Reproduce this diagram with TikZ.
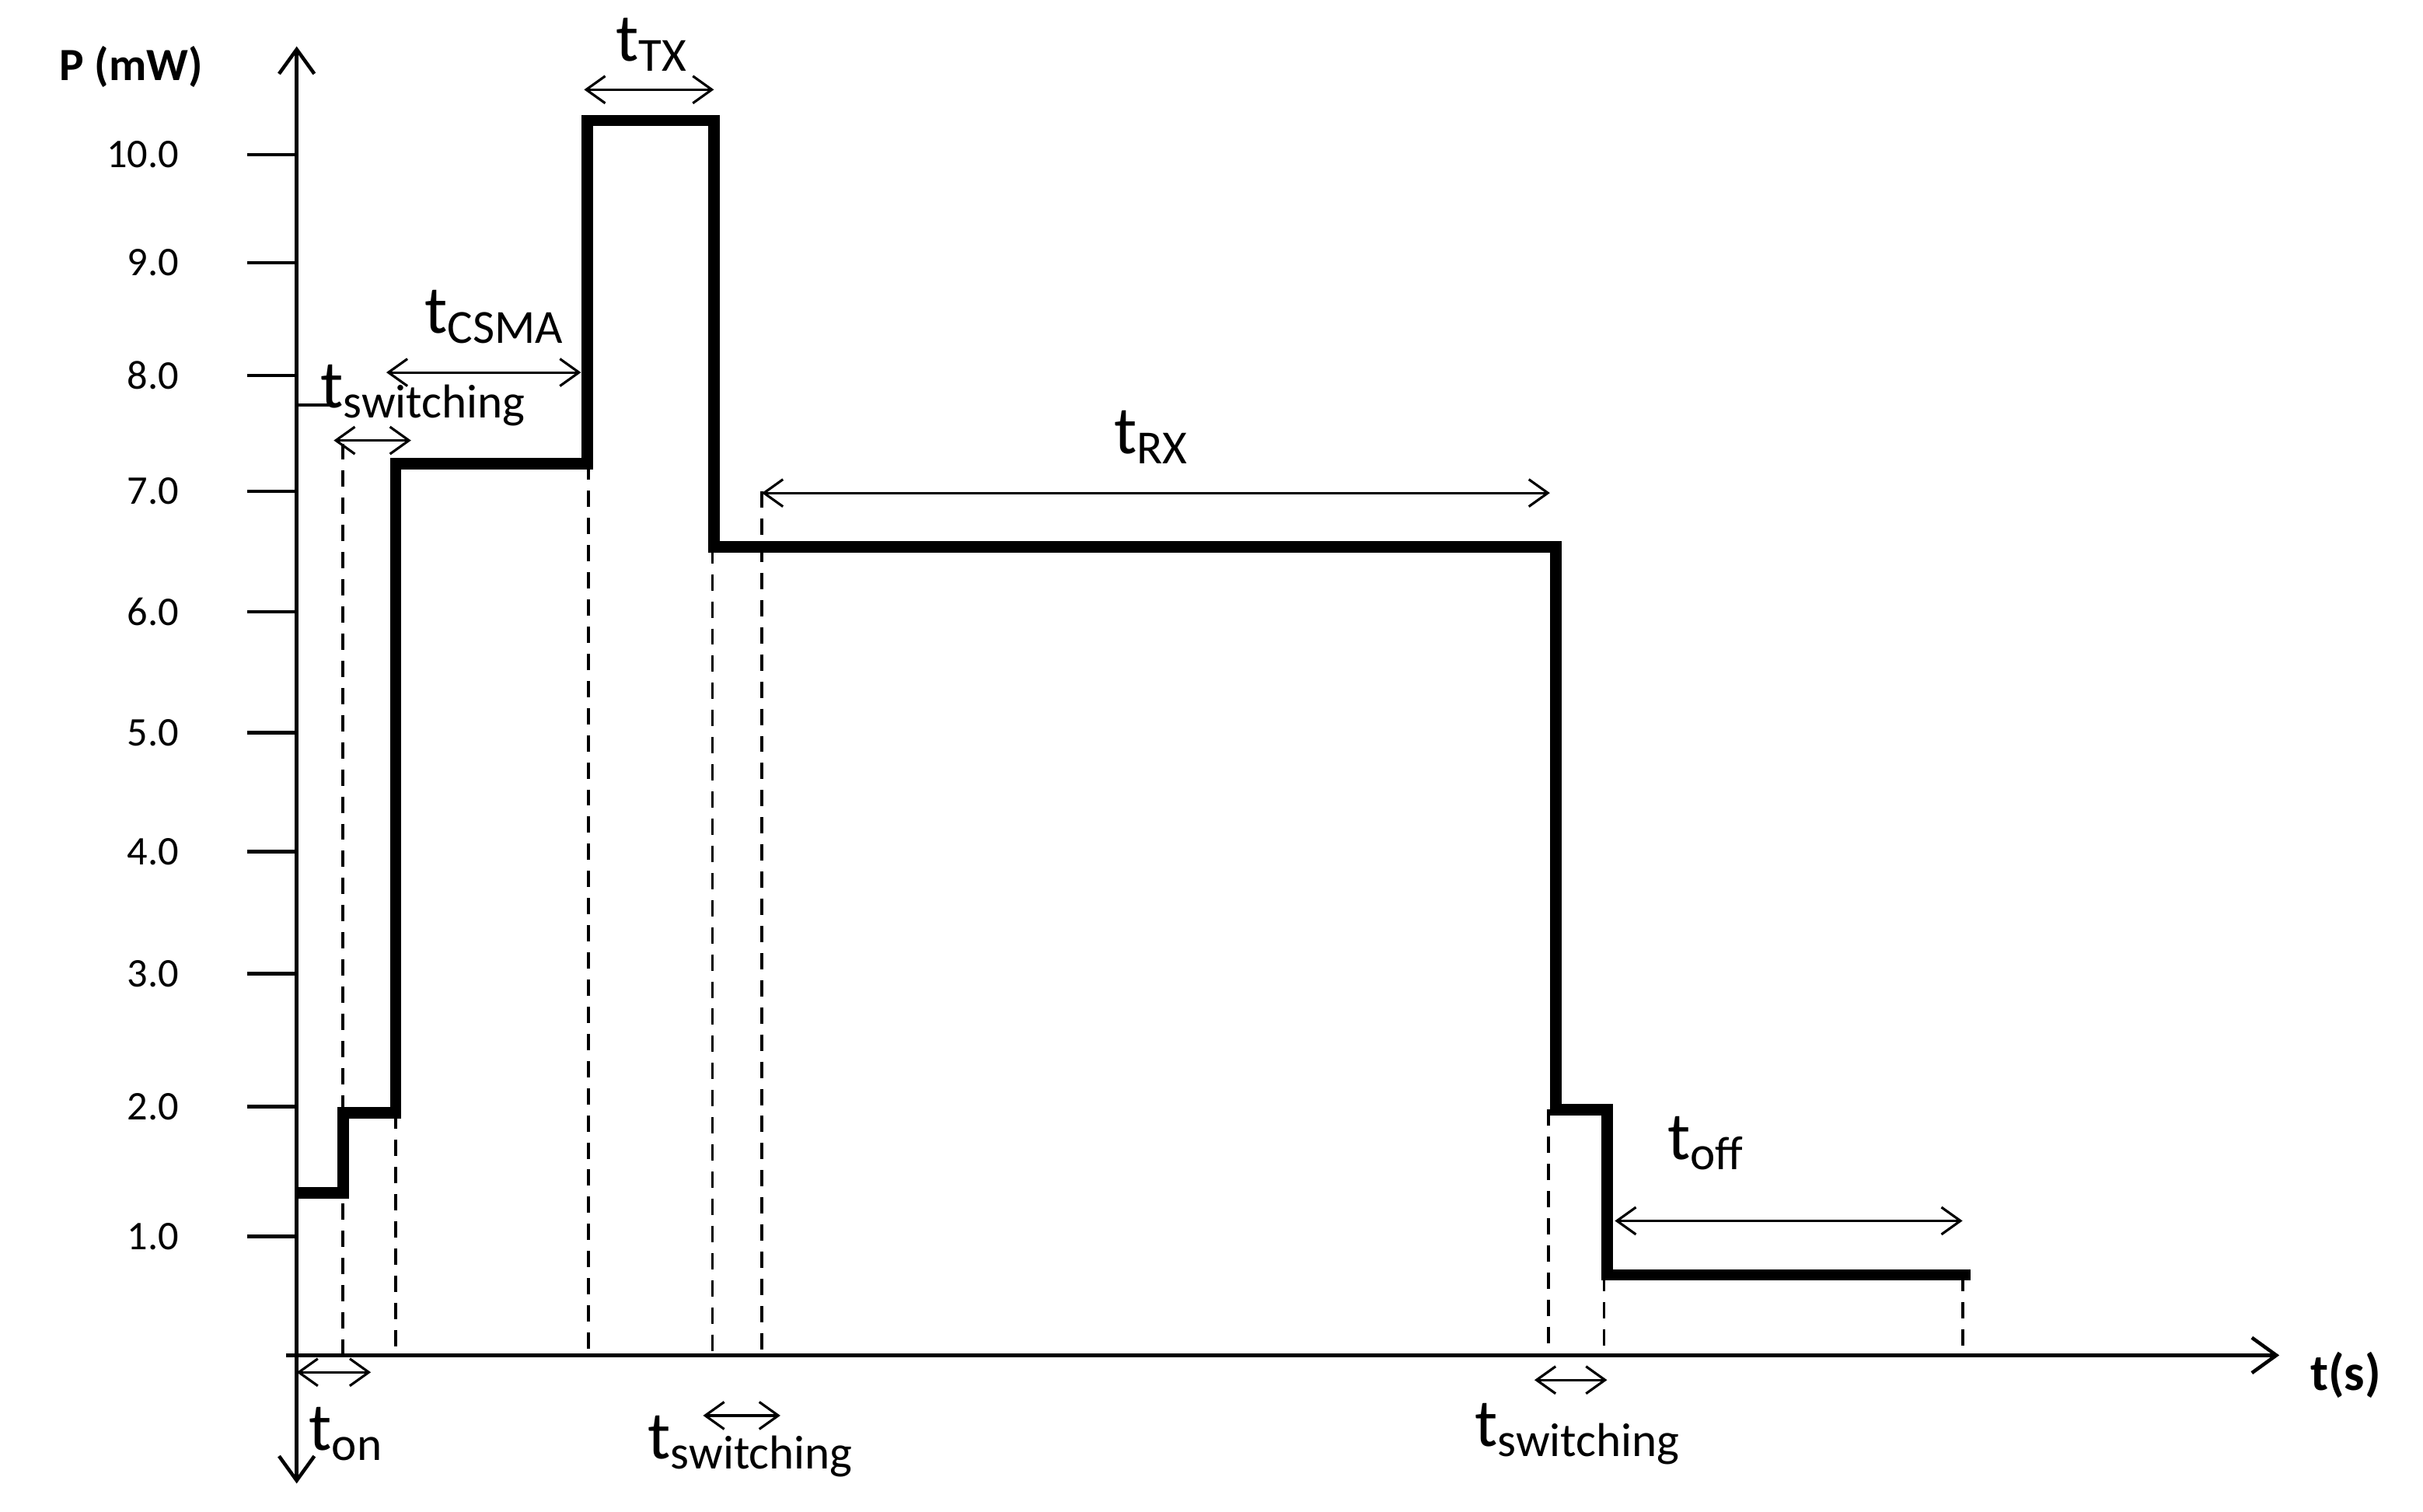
\documentclass[tikz,border=0pt]{standalone}
\usepackage{fontspec}
\setmainfont{Carlito}
\usetikzlibrary{arrows.meta}
\begin{document}
\begin{tikzpicture}[x=0.02cm,y=-0.02cm,
  ax/.style={line width=1.3pt},
  trace/.style={line width=4.2pt,line join=miter},
  dsh/.style={line width=1.1pt,dash pattern=on 6pt off 4pt},
  dim/.style={line width=0.9pt,{Straight Barb[length=7pt,width=10pt]}-{Straight Barb[length=7pt,width=10pt]}},
  tick/.style={font=\fontsize{15}{17}\selectfont,anchor=east},
  lab/.style={font=\fontsize{25}{28}\selectfont,inner sep=0pt}]
\useasboundingbox (0,0) rectangle (1568,978);
% axes
\coordinate (yt) at (192,30); \coordinate (yb) at (192,960);
\coordinate (xl) at (185,877); \coordinate (xr) at (1475,877);
\draw[ax,-{Straight Barb[length=9pt,width=13pt]}] (192,877) -- (yt);
\draw[ax,-{Straight Barb[length=9pt,width=13pt]}] (192,877) -- (yb);
\draw[ax,-{Straight Barb[length=9pt,width=13pt]}] (xl) -- (xr);
\node[font=\bfseries\fontsize{17}{20}\selectfont] (P) at (85,43) {P (mW)};
\node[font=\bfseries\fontsize{19}{22}\selectfont] (T) at (1518,890) {t(s)};
% ticks
\foreach \v/\y in {10.0/100,9.0/170,8.0/243,7.0/318,6.0/396,5.0/474,4.0/551,3.0/630,2.0/716,1.0/800}{
  \draw[ax] (160,\y) -- (192,\y);
  \node[tick] at (122,\y) {\v};
}
\draw[ax] (191,262) -- (218,262);
% dashed verticals
\draw[dsh] (222,287) -- (222,877);
\draw[dsh] (256,720) -- (256,877);
\draw[dsh] (381,300) -- (381,877);
\draw[dsh] (461,354) -- (461,877);
\draw[dsh] (493,318) -- (493,877);
\draw[dsh] (1002,718) -- (1002,877);
\draw[dsh] (1038,825) -- (1038,877);
\draw[dsh] (1270,825) -- (1270,877);
% trace
\draw[trace] (192,772) -- (222,772) -- (222,720) -- (256,720) -- (256,300) -- (380,300) -- (380,78) -- (462,78) -- (462,354) -- (1007,354) -- (1007,718) -- (1040,718) -- (1040,825) -- (1275,825);
% dimension arrows
\coordinate (on1) at (192,888); \coordinate (on2) at (240,888);
\draw[dim] (on1) -- (on2);
\node[lab] (ton) at (224,928) {t\textsubscript{on}};
\coordinate (s1a) at (455,916); \coordinate (s1b) at (505,916);
\draw[dim] (s1a) -- (s1b);
\node[lab] (ts1) at (486,936) {t\textsubscript{switching}};
\coordinate (s2a) at (993,893); \coordinate (s2b) at (1040,893);
\draw[dim] (s2a) -- (s2b);
\node[lab] (ts2) at (1021,928) {t\textsubscript{switching}};
\coordinate (s3a) at (216,285); \coordinate (s3b) at (266,285);
\draw[dim] (s3a) -- (s3b);
\node[lab] (ts3) at (274,256) {t\textsubscript{switching}};
\coordinate (ca) at (250,241); \coordinate (cb) at (376,241);
\draw[dim] (ca) -- (cb);
\node[lab] (tc) at (320,205) {t\textsubscript{CSMA}};
\coordinate (txa) at (378,58); \coordinate (txb) at (462,58);
\draw[dim] (txa) -- (txb);
\node[lab] (ttx) at (422,29) {t\textsubscript{TX}};
\coordinate (rxa) at (493,319); \coordinate (rxb) at (1003,319);
\draw[dim] (rxa) -- (rxb);
\node[lab] (trx) at (745,283) {t\textsubscript{RX}};
\coordinate (ofa) at (1045,790); \coordinate (ofb) at (1270,790);
\draw[dim] (ofa) -- (ofb);
\node[lab] (tof) at (1104,740) {t\textsubscript{off}};
\end{tikzpicture}
\end{document}
